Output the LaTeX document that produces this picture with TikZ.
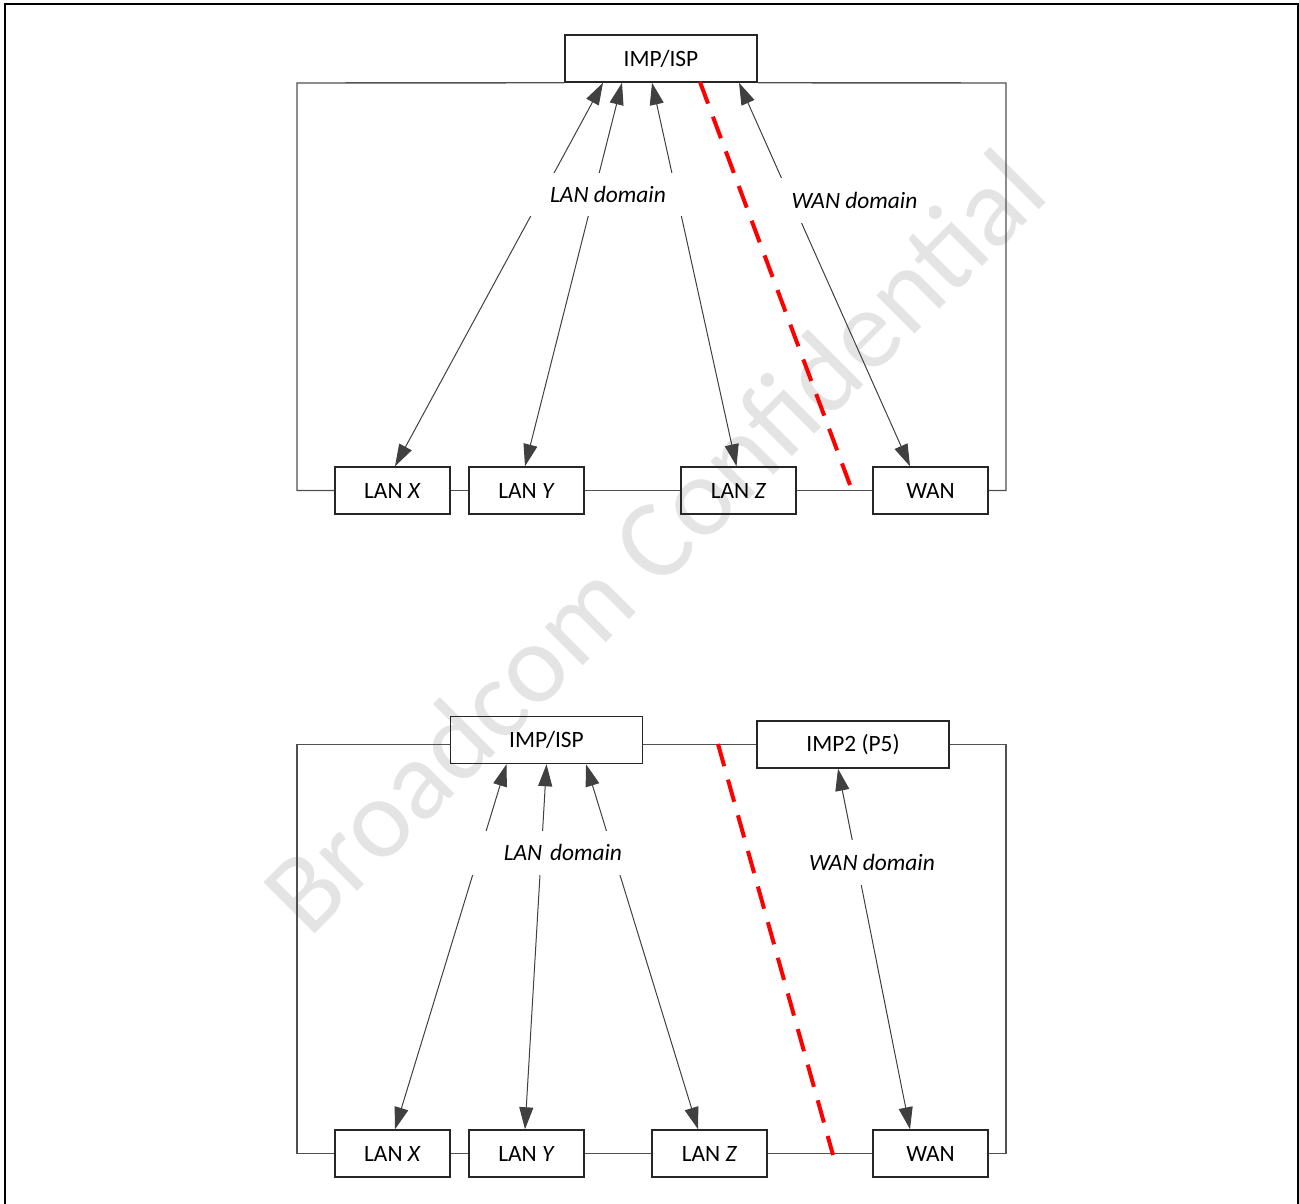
\documentclass[tikz,border=0pt]{standalone}
\usepackage{fontspec}
\setmainfont{Carlito}
\usetikzlibrary{arrows.meta,calc}
\definecolor{wm}{RGB}{228,228,228}
\definecolor{ln}{RGB}{64,64,64}
\definecolor{ringc}{RGB}{80,80,80}
\definecolor{bx}{RGB}{38,38,38}
\begin{document}
\begin{tikzpicture}[x=0.5pt,y=-0.5pt,
  box/.style={draw=bx,line width=0.75pt,minimum width=57.5pt,minimum height=23.5pt,inner sep=0pt,font=\fontsize{11.7}{14}\selectfont},
  widebox/.style={box,minimum width=96pt},
  lbl/.style={fill=white,inner sep=0pt,font=\fontsize{11.7}{14}\selectfont\itshape},
  conn/.style={draw=ln,line width=0.5pt,{Triangle[length=11pt,width=7pt]}-{Triangle[length=11pt,width=7pt]}},
  ringline/.style={draw=ringc,line width=0.7pt},
  redline/.style={draw=red,line width=2pt,dash pattern=on 11.5pt off 7pt},
]
\useasboundingbox (0,0) rectangle (1299,1203);

% watermark
\node[text=wm,rotate=45,inner sep=0pt,font=\fontsize{56.5}{60}\selectfont] (wmark) at (653,541) {Broadcom Confidential};

% outer frame
\draw[line width=1.1pt] (5,1215) -- (5,4) -- (1298,4) -- (1298,1215);

% ===== top diagram =====
\node[widebox] (imp1) at (661,58.5) {IMP/ISP};
\node[box] (lanx1) at (392.5,490.5) {LAN \textit{X}};
\node[box] (lany1) at (526.5,490.5) {LAN \textit{Y}};
\node[box] (lanz1) at (738.5,490.5) {LAN \textit{Z}};
\node[box] (wan1) at (930.5,490.5) {WAN};
\coordinate (c1) at (297,83);
\coordinate (c2) at (1006,83);

\draw[ringline] (imp1.south west) -- (c1) -- (c1 |- lanx1.west) -- (lanx1.west);
\draw[ringline] (lanx1.east) -- (lany1.west);
\draw[ringline] (lany1.east) -- (lanz1.west);
\draw[ringline] (lanz1.east) -- (wan1.west);
\draw[ringline] (wan1.east) -- (c2 |- wan1.east) -- (c2) -- (imp1.south east);

\draw[conn] ([xshift=-29pt]imp1.south) -- ([xshift=1.25pt]lanx1.north);
\draw[conn] ([xshift=-19.5pt]imp1.south) -- ([xshift=-0.75pt]lany1.north);
\draw[conn] ([xshift=-4.5pt]imp1.south) -- ([xshift=-1pt]lanz1.north);
\draw[conn] ([xshift=39pt]imp1.south) -- ([xshift=-10.25pt]wan1.north);

\node[lbl,minimum width=82pt,minimum height=21.5pt] (lbl1) at (608,194.5) {LAN domain};
\node[lbl,minimum width=74.5pt,minimum height=22.5pt] (lbl2) at (854.5,200.5) {WAN domain};

\coordinate (r1a) at (700,82);
\coordinate (r1b) at (853,493);
\draw[redline] (r1a) -- (r1b);

% ===== bottom diagram =====
\node[widebox] (imp2) at (546.5,740) {IMP/ISP};
\node[widebox] (impp) at (853,744.5) {IMP2 (P5)};
\node[box] (lanx2) at (392.5,1153.5) {LAN \textit{X}};
\node[box] (lany2) at (526.5,1153.5) {LAN \textit{Y}};
\node[box] (lanz2) at (709.5,1153.5) {LAN \textit{Z}};
\node[box] (wan2) at (930.5,1153.5) {WAN};
\coordinate (c3) at (297,744.5);
\coordinate (c4) at (1006,744.5);

\draw[ringline] (imp2.west |- impp.west) -- (c3) -- (c3 |- lanx2.west) -- (lanx2.west);
\draw[ringline] (imp2.east |- impp.west) -- (impp.west);
\draw[ringline] (lanx2.east) -- (lany2.west);
\draw[ringline] (lany2.east) -- (lanz2.west);
\draw[ringline] (lanz2.east) -- (wan2.west);
\draw[ringline] (wan2.east) -- (c4 |- wan2.east) -- (c4) -- (impp.east);

\draw[conn] ([xshift=-20pt]imp2.south) -- ([xshift=1.25pt]lanx2.north);
\draw[conn] ([xshift=0pt]imp2.south) -- ([xshift=-0.75pt]lany2.north);
\draw[conn] ([xshift=19.75pt]imp2.south) -- ([xshift=-5.75pt]lanz2.north);
\draw[conn] ([xshift=-7.5pt]impp.south) -- ([xshift=-10.25pt]wan2.north);

\node[lbl,text width=75pt,align=right,inner xsep=1pt,minimum height=22pt] (lbl3) at (547,852.5) {LAN domain};
\node[lbl,minimum width=66pt,minimum height=22.5pt] (lbl4) at (872,862.5) {WAN domain};

\coordinate (r2a) at (718,744);
\coordinate (r2b) at (833,1155);
\draw[redline] (r2a) -- (r2b);
\end{tikzpicture}
\end{document}
